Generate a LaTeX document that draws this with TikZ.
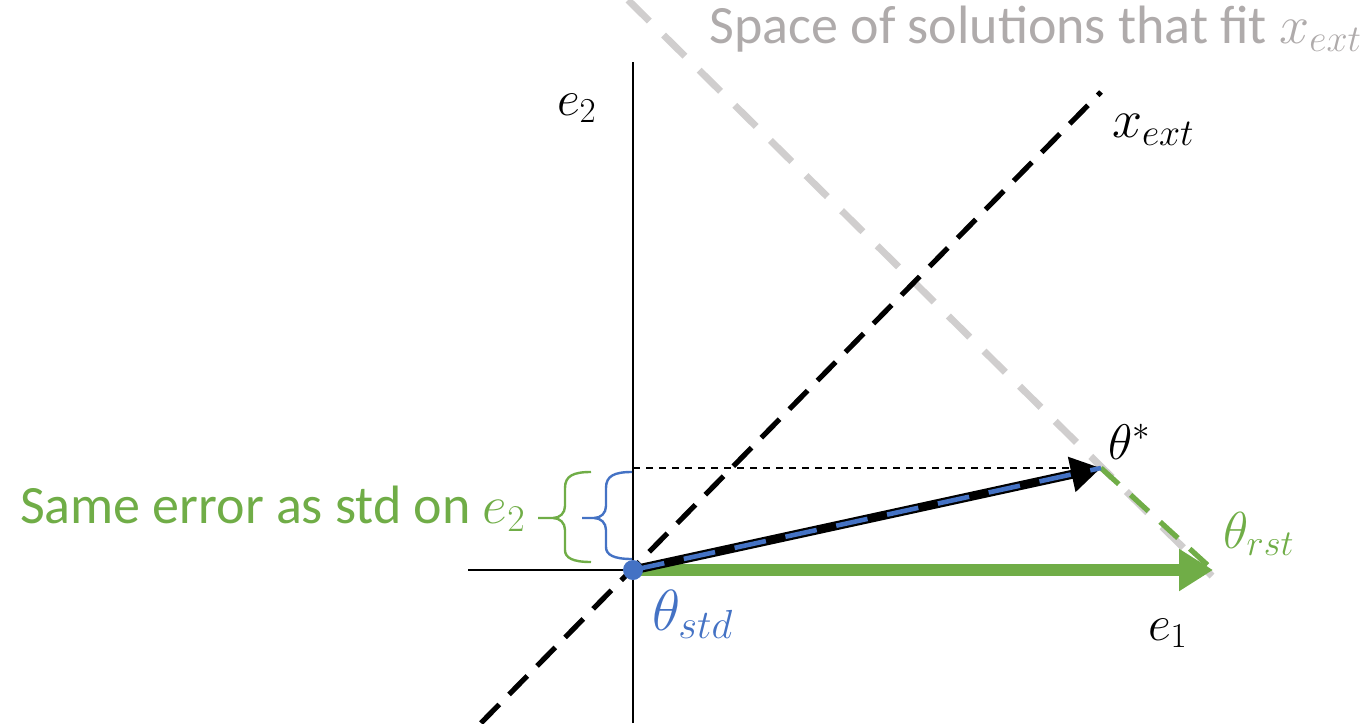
\RequirePackage{fix-cm}
\documentclass[tikz,border=0pt]{standalone}
\usepackage{fontspec}
\setmainfont{Carlito}
\usetikzlibrary{arrows.meta}
\definecolor{mygreen}{RGB}{112,173,71}
\definecolor{myblue}{RGB}{68,114,196}
\definecolor{lgray}{RGB}{208,206,206}
\definecolor{tgray}{RGB}{175,171,171}
\begin{document}
\begin{tikzpicture}[x=0.5pt,y=-0.5pt,
  lbl/.style={inner sep=0pt, outer sep=0pt},
  axis/.style={line width=1pt, black},
  xline/.style={line width=2.6pt, black, dash pattern=on 13pt off 7pt},
  fitline/.style={line width=3.5pt, lgray, dash pattern=on 15pt off 10pt},
  helper/.style={line width=0.8pt, black, dash pattern=on 3.5pt off 3pt},
  greenarrow/.style={line width=6pt, mygreen, -{Triangle[length=17pt,width=20pt]}},
  blackarrow/.style={line width=4.5pt, black, -{Triangle[length=15pt,width=17pt]}},
  bluedash/.style={line width=2.3pt, myblue, dash pattern=on 16pt off 10pt},
  greendash/.style={line width=2.6pt, mygreen, dash pattern=on 12pt off 8pt},
  bracestyle/.style={line width=1.2pt}
]
\useasboundingbox (0,0) rectangle (1371,723);
% key points
\coordinate (O) at (633,570);
\coordinate (T) at (1101,468);
\coordinate (R) at (1213,570);
\coordinate (Ytop) at (633,62);
\coordinate (Ybot) at (633,723);
\coordinate (Xleft) at (468,570);
\coordinate (Xlo) at (481,723);
\coordinate (Xhi) at (1101,92);
\coordinate (Ftop) at (628,0);
\coordinate (Fbot) at (1212,576);
\coordinate (H) at (633,468);
% axes
\draw[axis] (Ybot) -- (Ytop);
\draw[axis] (Xleft) -- (O);
% lines
\draw[fitline] (Ftop) -- (Fbot);
\draw[xline] (Xlo) -- (Xhi);
\draw[helper] (H) -- (T);
\draw[greendash] (T) -- (R);
\draw[greenarrow] (O) -- (R);
\draw[blackarrow] (O) -- (T);
\draw[bluedash] (O) -- (T);
\fill[myblue] (O) circle[radius=10];
% braces
\draw[bracestyle, myblue] (632,472) .. controls (614,472) and (606,476) .. (606,488)
  -- (606,506) .. controls (606,513) and (601,518) .. (594,518) -- (582,518)
  (594,518) .. controls (601,518) and (606,523) .. (606,530)
  -- (606,547) .. controls (606,555) and (614,559) .. (632,559);
\draw[bracestyle, mygreen] (591,472) .. controls (573,472) and (565,476) .. (565,488)
  -- (565,506) .. controls (565,513) and (560,518) .. (553,518) -- (538,518)
  (553,518) .. controls (560,518) and (565,523) .. (565,530)
  -- (565,550) .. controls (565,558) and (573,562) .. (591,562);
% labels
\node[lbl, anchor=base west, font=\fontsize{25}{29}\selectfont] (le2) at (557,115) {$e_2$};
\node[lbl, anchor=base west, font=\fontsize{25}{29}\selectfont] (le1) at (1148,640) {$e_1$};
\node[lbl, anchor=base west, font=\fontsize{27}{31}\selectfont] (lx) at (1112,137) {$x_{ext}$};
\node[lbl, anchor=base west, font=\fontsize{25}{29}\selectfont] (lts) at (1108,459) {$\theta^*$};
\node[lbl, anchor=base west, text=mygreen, font=\fontsize{26}{30}\selectfont] (ltr) at (1223,548) {$\theta_{rst}$};
\node[lbl, anchor=base west, text=myblue, font=\fontsize{29}{33}\selectfont] (ltd) at (652,630) {$\theta_{std}$};
\node[lbl, anchor=base east, text=tgray, font=\fontsize{27}{32}\selectfont] (lspace) at (1362,43) {Space of solutions that fit $x_{ext}$};
\node[lbl, anchor=base west, text=mygreen, font=\fontsize{27}{32}\selectfont] (lsame) at (20,523) {Same error as std on $e_2$};
\end{tikzpicture}
\end{document}
